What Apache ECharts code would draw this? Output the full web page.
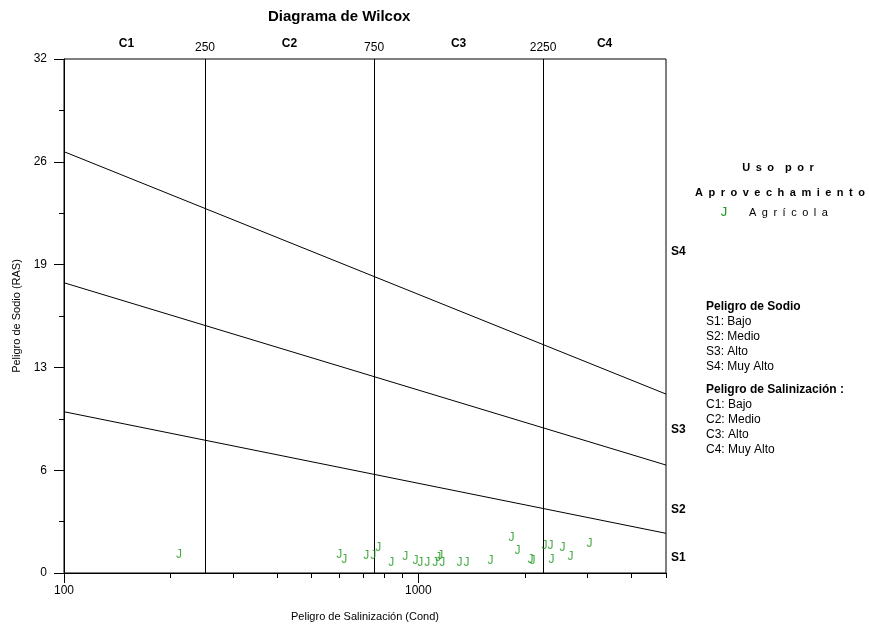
<!DOCTYPE html>
<html><head><meta charset="utf-8">
<script src="https://cdn.jsdelivr.net/npm/echarts@6/dist/echarts.min.js"></script>
<style>html,body{margin:0;padding:0;background:#fff}#c{width:869px;height:629px}</style>
</head><body><div id="c"></div>
<script>
const FONT = '"Liberation Sans", Arial, Helvetica, sans-serif';
const GREEN = '#179617';

// axes
const xMin = 100, xMax = 5000;
const yMin = 0, yMax = 32, yStep = 6.4;
const xMajorTicks = [100, 1000];
const xMinorTicks = [200, 300, 400, 500, 600, 700, 800, 900, 2000, 3000, 4000, 5000];

// salinity classes
const classBounds = [250, 750, 2250];
const classNames = ['C1', 'C2', 'C3', 'C4'];
const classMids = [150, 433, 1299, 3354];

// sodium classes
const sodiumNames = ['S1', 'S2', 'S3', 'S4'];
const sodiumLabelPos = [0.93, 3.92, 8.9, 19.98];
const boundaryX = [100, 5000];
const lineS1S2 = [10.04, 2.47];
const lineS2S3 = [18.07, 6.72];
const lineS3S4 = [26.23, 11.14];

// samples (Agrícola)
const sampleCond = [211, 598, 618, 713, 746, 771, 839, 919, 981, 1013, 1060, 1117, 1139, 1154, 1169, 1306, 1367, 1598, 1831, 1904, 2072, 2099, 2270, 2360, 2375, 2552, 2688, 3041];
const sampleRAS  = [1.12, 1.12, 0.81, 1.06, 1.06, 1.56, 0.62, 1.0, 0.75, 0.62, 0.62, 0.62, 0.93, 1.06, 0.62, 0.62, 0.62, 0.75, 2.18, 1.37, 0.81, 0.75, 1.68, 1.68, 0.81, 1.56, 1.0, 1.81];

function nearestIdx(arr, v) {
  let best = 0, bd = Infinity;
  arr.forEach((a, i) => { const d = Math.abs(Math.log(a) - Math.log(Math.max(v, 1e-9))); if (d < bd) { bd = d; best = i; } });
  return best;
}
function nearestLin(arr, v) {
  let best = 0, bd = Infinity;
  arr.forEach((a, i) => { const d = Math.abs(a - v); if (d < bd) { bd = d; best = i; } });
  return best;
}

const sp = '\u2002';
function spaced(s) { return s.split('').join(sp); }

const chart = echarts.init(document.getElementById('c'), null, { renderer: 'canvas' });
const txt = { fontFamily: FONT, color: '#000' };

const option = {
  animation: false,
  backgroundColor: '#fff',
  title: {
    text: 'Diagrama de Wilcox', left: 263, top: 4,
    textStyle: { fontFamily: FONT, fontSize: 15, fontWeight: 'bold', color: '#000' }
  },
  grid: { left: 64, right: 203, top: 59, bottom: 56, show: true, borderColor: '#000', borderWidth: 1, backgroundColor: 'transparent' },
  xAxis: [
    {
      type: 'log', logBase: 10, min: xMin, max: xMax, position: 'bottom',
      axisLine: { show: true, lineStyle: { color: '#000', width: 1 } },
      axisTick: { show: true, customValues: xMajorTicks, length: 10, lineStyle: { color: '#000' } },
      axisLabel: { customValues: xMajorTicks, ...txt, fontSize: 12, margin: 12, formatter: v => String(Math.round(v)) },
      splitLine: { show: false }, minorTick: { show: false }, minorSplitLine: { show: false },
      name: 'Peligro de Salinización (Cond)', nameLocation: 'middle', nameGap: 38,
      nameTextStyle: { ...txt, fontSize: 11 }
    },
    {
      type: 'log', logBase: 10, min: xMin, max: xMax, position: 'bottom',
      axisLine: { show: false },
      axisTick: { show: true, customValues: xMinorTicks, length: 5, lineStyle: { color: '#000' } },
      axisLabel: { show: false }, splitLine: { show: false }
    },
    {
      type: 'log', logBase: 10, min: xMin, max: xMax, position: 'top',
      axisLine: { show: false }, axisTick: { show: false },
      axisLabel: { customValues: classBounds, ...txt, fontSize: 12, margin: 5, formatter: v => String(Math.round(v)) },
      splitLine: { show: false }
    },
    {
      type: 'log', logBase: 10, min: xMin, max: xMax, position: 'top',
      axisLine: { show: false }, axisTick: { show: false },
      axisLabel: { customValues: classMids, ...txt, fontSize: 12, fontWeight: 'bold', margin: 9,
        formatter: v => classNames[nearestIdx(classMids, v)] },
      splitLine: { show: false }
    }
  ],
  yAxis: [
    {
      type: 'value', min: yMin, max: yMax, interval: yStep, position: 'left',
      axisLine: { show: true, lineStyle: { color: '#000', width: 1 } },
      axisTick: { show: true, length: 10, lineStyle: { color: '#000' } },
      minorTick: { show: true, splitNumber: 2, length: 5, lineStyle: { color: '#000' } },
      minorSplitLine: { show: false },
      axisLabel: { ...txt, fontSize: 12, margin: 17, formatter: v => String(Math.round(v)) },
      splitLine: { show: false },
      name: 'Peligro de Sodio (RAS)', nameLocation: 'middle', nameGap: 42,
      nameTextStyle: { ...txt, fontSize: 11 }
    },
    {
      type: 'value', min: yMin, max: yMax, position: 'right',
      axisLine: { show: false }, axisTick: { show: false },
      axisLabel: { customValues: sodiumLabelPos, ...txt, fontSize: 12, fontWeight: 'bold', margin: 5,
        formatter: v => sodiumNames[nearestLin(sodiumLabelPos, v)] },
      splitLine: { show: false }
    }
  ],
  series: [
    {
      type: 'line', xAxisIndex: 0, yAxisIndex: 0, silent: true, symbol: 'none',
      lineStyle: { color: '#000', width: 1 },
      data: boundaryX.map((x, i) => [x, lineS1S2[i]]),
      markLine: {
        silent: true, symbol: ['none', 'none'], label: { show: false },
        lineStyle: { color: '#000', width: 1, type: 'solid' },
        data: classBounds.map(v => ({ xAxis: v }))
      }
    },
    {
      type: 'line', xAxisIndex: 0, yAxisIndex: 0, silent: true, symbol: 'none',
      lineStyle: { color: '#000', width: 1 },
      data: boundaryX.map((x, i) => [x, lineS2S3[i]])
    },
    {
      type: 'line', xAxisIndex: 0, yAxisIndex: 0, silent: true, symbol: 'none',
      lineStyle: { color: '#000', width: 1 },
      data: boundaryX.map((x, i) => [x, lineS3S4[i]])
    },
    {
      type: 'scatter', xAxisIndex: 0, yAxisIndex: 0, name: 'Agrícola',
      symbol: 'circle', symbolSize: 1, itemStyle: { color: 'rgba(0,0,0,0)' },
      label: { show: true, formatter: 'J', position: 'inside', color: GREEN, fontFamily: FONT, fontSize: 12 },
      data: sampleCond.map((c, i) => [c, sampleRAS[i]]),
      z: 5
    }
  ],
  graphic: [
    { type: 'text', x: 778, y: 168, style: { text: spaced('Uso') + sp + sp + spaced('por'), font: 'bold 11px ' + FONT, fill: '#000', align: 'center', verticalAlign: 'middle' } },
    { type: 'text', x: 780, y: 193, style: { text: spaced('Aprovechamiento'), font: 'bold 11px ' + FONT, fill: '#000', align: 'center', verticalAlign: 'middle' } },
    { type: 'text', x: 724, y: 212, style: { text: 'J', font: '13px ' + FONT, fill: GREEN, align: 'center', verticalAlign: 'middle' } },
    { type: 'text', x: 749, y: 213, style: { text: spaced('Agrícola'), font: '11px ' + FONT, fill: '#000', align: 'left', verticalAlign: 'middle' } },

    { type: 'text', x: 706, y: 307, style: { text: 'Peligro de Sodio', font: 'bold 12px ' + FONT, fill: '#000', verticalAlign: 'middle' } },
    { type: 'text', x: 706, y: 322, style: { text: 'S1: Bajo', font: '12px ' + FONT, fill: '#000', verticalAlign: 'middle' } },
    { type: 'text', x: 706, y: 337, style: { text: 'S2: Medio', font: '12px ' + FONT, fill: '#000', verticalAlign: 'middle' } },
    { type: 'text', x: 706, y: 352, style: { text: 'S3: Alto', font: '12px ' + FONT, fill: '#000', verticalAlign: 'middle' } },
    { type: 'text', x: 706, y: 367, style: { text: 'S4: Muy Alto', font: '12px ' + FONT, fill: '#000', verticalAlign: 'middle' } },

    { type: 'text', x: 706, y: 390, style: { text: 'Peligro de Salinización :', font: 'bold 12px ' + FONT, fill: '#000', verticalAlign: 'middle' } },
    { type: 'text', x: 706, y: 405, style: { text: 'C1: Bajo', font: '12px ' + FONT, fill: '#000', verticalAlign: 'middle' } },
    { type: 'text', x: 706, y: 420, style: { text: 'C2: Medio', font: '12px ' + FONT, fill: '#000', verticalAlign: 'middle' } },
    { type: 'text', x: 706, y: 435, style: { text: 'C3: Alto', font: '12px ' + FONT, fill: '#000', verticalAlign: 'middle' } },
    { type: 'text', x: 706, y: 450, style: { text: 'C4: Muy Alto', font: '12px ' + FONT, fill: '#000', verticalAlign: 'middle' } }
  ]
};
chart.setOption(option);
</script>
</body></html>
